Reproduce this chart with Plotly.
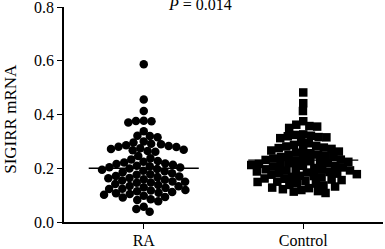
import numpy as np
import plotly.graph_objects as go

categories = ["RA", "Control"]

ra_values = [
    0.587, 0.456, 0.413, 0.377, 0.370, 0.375, 0.376, 0.338, 0.320, 0.315, 0.321,
    0.300, 0.296, 0.291, 0.286, 0.283, 0.280, 0.279, 0.274, 0.272, 0.269, 0.267, 0.264, 0.261, 0.289,
    0.246, 0.237, 0.233, 0.227, 0.224, 0.221,
    0.218, 0.216, 0.213, 0.209, 0.207, 0.204, 0.203, 0.199, 0.197, 0.194, 0.191, 0.189, 0.185, 0.181,
    0.178, 0.176, 0.171, 0.169, 0.167, 0.164, 0.163, 0.159, 0.157, 0.154, 0.151, 0.150, 0.147, 0.146, 0.141,
    0.138, 0.134, 0.133, 0.129, 0.127, 0.124, 0.123, 0.119, 0.117, 0.114, 0.112, 0.109, 0.107, 0.104, 0.101,
    0.098, 0.093, 0.091, 0.085, 0.082, 0.077,
    0.057, 0.048, 0.038,
]

control_values = [
    0.482, 0.442, 0.413, 0.375, 0.362, 0.357, 0.355, 0.350, 0.324, 0.319, 0.315, 0.312, 0.321, 0.316, 0.326,
    0.298, 0.293, 0.287, 0.283, 0.281, 0.277, 0.272, 0.268, 0.266, 0.262, 0.275,
    0.258, 0.256, 0.251, 0.249, 0.246, 0.242, 0.241, 0.238, 0.236, 0.232, 0.231, 0.228, 0.226, 0.224, 0.223, 0.219,
    0.218, 0.216, 0.213, 0.212, 0.209, 0.208, 0.206, 0.203, 0.201, 0.198, 0.196, 0.195, 0.192, 0.191, 0.188,
    0.186, 0.184, 0.182, 0.180,
    0.178, 0.176, 0.172, 0.171, 0.168, 0.166, 0.162, 0.161, 0.158, 0.156, 0.152, 0.150, 0.149, 0.145, 0.143,
    0.138, 0.136, 0.132, 0.128, 0.126, 0.122, 0.119, 0.115, 0.113, 0.108,
]

group_means = [0.200, 0.230]
p_text = "<i>P</i> = 0.014"
y_title = "SIGIRR mRNA"
y_ticks = [0.0, 0.2, 0.4, 0.6, 0.8]

W, H = 385, 249
M_L, M_R, M_T, M_B = 64, 2, 7, 27
Y_RANGE = [0, 0.8]
X_RANGE = [-0.5, 1.5]
px_per_y = (H - M_T - M_B) / (Y_RANGE[1] - Y_RANGE[0])
px_per_x = (W - M_L - M_R) / (X_RANGE[1] - X_RANGE[0])


def swarm_offsets(values, d):
    ys = np.asarray(values) * px_per_y
    order = np.argsort(-ys)
    placed = []
    xs = np.zeros(len(ys))
    for i in order:
        y = ys[i]
        intervals = []
        for (px, py) in placed:
            dy = abs(py - y)
            if dy < d:
                dx = np.sqrt(d * d - dy * dy)
                intervals.append((px - dx, px + dx))
        cands = [0.0] + [a for a, b in intervals] + [b for a, b in intervals]
        cands.sort(key=lambda c: (abs(c), c))
        chosen = 0.0
        for c in cands:
            if all(not (a + 1e-6 < c < b - 1e-6) for a, b in intervals):
                chosen = c
                break
        xs[i] = chosen
        placed.append((chosen, y))
    return xs / px_per_x


fig = go.Figure()
font = "Liberation Serif"
groups = [(ra_values, "circle"), (control_values, "square")]
for idx, (vals, sym) in enumerate(groups):
    off = swarm_offsets(vals, 7.8)
    fig.add_trace(go.Scatter(
        x=idx + off, y=vals, mode="markers",
        marker=dict(symbol=sym, size=8.5, color="black", line=dict(width=0)),
        showlegend=False, hoverinfo="skip", cliponaxis=False,
    ))
    half = 0.345
    fig.add_trace(go.Scatter(
        x=[idx - half, idx + half], y=[group_means[idx]] * 2, mode="lines",
        line=dict(color="black", width=1.3), showlegend=False, hoverinfo="skip",
    ))

fig.add_annotation(
    x=0.35, y=1, xref="x", yref="paper", text=p_text, showarrow=False,
    yanchor="bottom", yshift=-8, font=dict(family=font, size=16, color="black"),
)

# y-axis title placed as rotated text in the left margin
fig.add_annotation(
    x=0, y=0.48, xref="paper", yref="paper", text=y_title, showarrow=False,
    textangle=-90, xanchor="center", yanchor="middle", xshift=-53,
    font=dict(family=font, size=17, color="black"),
)

fig.update_layout(
    width=W, height=H,
    margin=dict(l=M_L, r=M_R, t=M_T, b=M_B),
    paper_bgcolor="white", plot_bgcolor="white",
    font=dict(family=font, size=16, color="black"),
    xaxis=dict(
        range=X_RANGE, tickvals=[0, 1], ticktext=categories,
        ticks="outside", ticklen=5, tickwidth=1.3, tickcolor="black",
        showline=True, linecolor="black", linewidth=1.5,
        showgrid=False, zeroline=False, automargin=False,
        tickfont=dict(family=font, size=16),
        ticklabeloverflow="allow", ticklabelstandoff=-2,
    ),
    yaxis=dict(
        range=Y_RANGE, tickvals=y_ticks, tickformat=".1f",
        ticks="outside", ticklen=5, tickwidth=1.3, tickcolor="black",
        showline=True, linecolor="black", linewidth=1.5,
        showgrid=False, zeroline=False, automargin=False,
        tickfont=dict(family=font, size=16),
        ticklabeloverflow="allow",
    ),
)

fig.write_html(
    "out.html",
    config={"displayModeBar": False},
    post_script="document.body.style.margin='0';document.body.style.padding='0';",
)
